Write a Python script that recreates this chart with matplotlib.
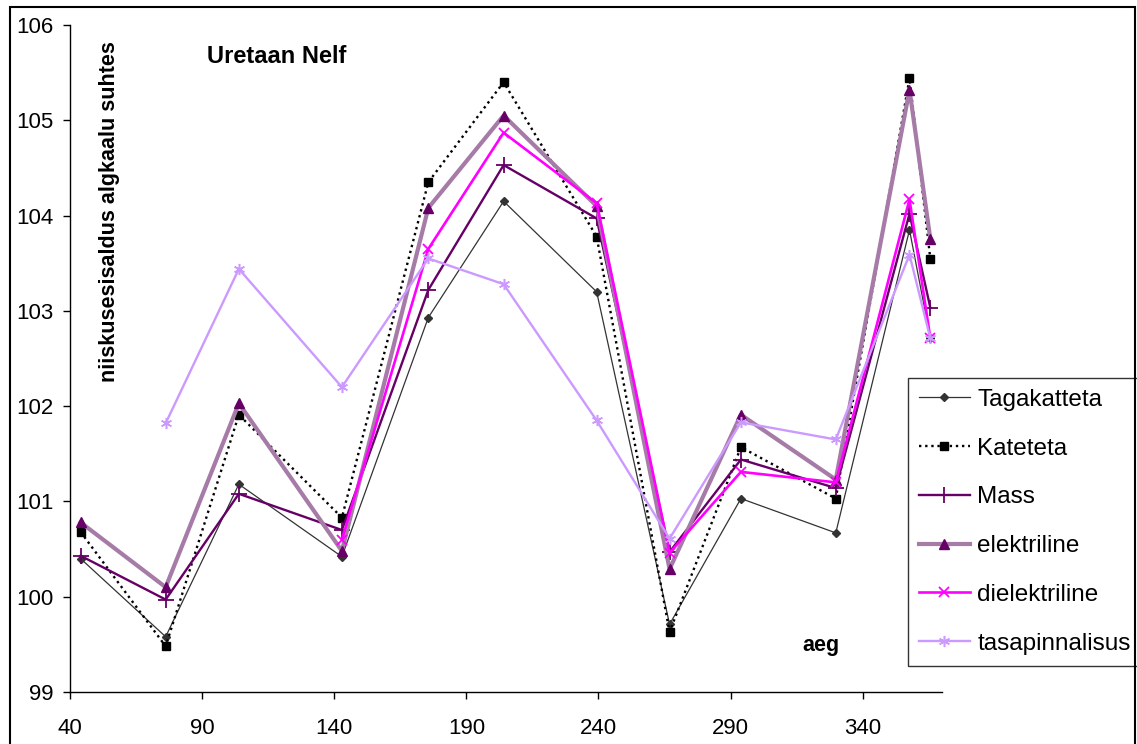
import numpy as np
import matplotlib
matplotlib.use('Agg')
import matplotlib.pyplot as plt
from matplotlib.patches import Rectangle

plt.rcParams['font.family'] = ['Liberation Sans', 'DejaVu Sans']

# andmed (loetud jooniselt)
aeg = [44, 76.2, 103.9, 142.9, 175.6, 204.1, 239.3, 266.9, 293.9, 329.8, 357.7, 365.6]
tagakatteta = [100.40, 99.58, 101.18, 100.42, 102.93, 104.15, 103.20, 99.71, 101.03, 100.67, 103.85, 102.71]
kateteta = [100.68, 99.48, 101.91, 100.83, 104.35, 105.40, 103.78, 99.63, 101.57, 101.03, 105.44, 103.54]
mass = [100.43, 99.97, 101.08, 100.70, 103.22, 104.53, 103.97, 100.47, 101.44, 101.14, 104.02, 103.03]
elektriline = [100.78, 100.10, 102.03, 100.48, 104.08, 105.05, 104.10, 100.29, 101.91, 101.23, 105.32, 103.75]
dielektriline = [np.nan, np.nan, np.nan, 100.60, 103.65, 104.87, 104.13, 100.46, 101.31, 101.20, 104.17, 102.71]
tasapinnalisus = [np.nan, 101.82, 103.44, 102.20, 103.55, 103.28, 101.85, 100.61, 101.83, 101.65, 103.59, 102.71]

W, H = 1137, 744
fig = plt.figure(figsize=(W / 100, H / 100), dpi=100)
ax = fig.add_axes([70 / W, (H - 692) / H, (942 - 70) / W, (692 - 25) / H])

ax.plot(aeg, tagakatteta, color='#333333', linewidth=0.9, marker='D', markersize=4.5,
        markerfacecolor='#333333', markeredgecolor='#333333', label='Tagakatteta')
ax.plot(aeg, kateteta, color='black', linewidth=1.7, linestyle=(0, (1, 1.6)), marker='s', markersize=5.5,
        markerfacecolor='black', markeredgecolor='black', label='Kateteta')
ax.plot(aeg, mass, color='#660066', linewidth=1.7, marker='+', markersize=11,
        markeredgewidth=1.3, label='Mass')
ax.plot(aeg, elektriline, color='#a77ba7', linewidth=3, marker='^', markersize=7,
        markerfacecolor='#660066', markeredgecolor='#660066', label='elektriline')
ax.plot(aeg, dielektriline, color='#ff00ff', linewidth=1.9, marker='x', markersize=7,
        markeredgewidth=1.3, label='dielektriline')
ax.plot(aeg, tasapinnalisus, color='#cc99ff', linewidth=1.7, marker=(6, 2, 0), markersize=8,
        markeredgewidth=1.1, label='tasapinnalisus')

ax.set_xlim(40, 370)
ax.set_ylim(99, 106)
ax.set_xticks(range(40, 341, 50))
ax.set_yticks(range(99, 107))
ax.tick_params(direction='out', length=5, width=1, labelsize=16, colors='black')
ax.tick_params(axis='x', pad=14)
ax.tick_params(axis='y', pad=7)
ax.spines['top'].set_visible(False)
ax.spines['right'].set_visible(False)
for s in ['left', 'bottom']:
    ax.spines[s].set_linewidth(1)
    ax.spines[s].set_color('black')

# tekstid
fig.text(207 / W, 1 - 63 / H, 'Uretaan Nelf', fontsize=17, fontweight='bold', ha='left', va='baseline')
fig.text(110 / W, 1 - 382 / H, 'niiskusesisaldus algkaalu suhtes', fontsize=15.5, fontweight='bold',
         rotation=90, ha='center', va='bottom')
fig.text(802 / W, 1 - 651 / H, 'aeg', fontsize=15.5, fontweight='bold', ha='left', va='baseline')

leg = ax.legend(loc='upper left', bbox_to_anchor=(908 / W, 1 - 378 / H), bbox_transform=fig.transFigure,
                borderaxespad=0, fontsize=17.5, frameon=True, fancybox=False, handlelength=2.1,
                handletextpad=0.3, labelspacing=1.1, borderpad=0.45)
leg.get_frame().set_edgecolor('black')
leg.get_frame().set_linewidth(1)

# diagrammi raam
fig.patches.append(Rectangle((10 / W, -0.01), (1135 - 10) / W, 1.01 - 7 / H, transform=fig.transFigure,
                             fill=False, edgecolor='black', linewidth=1.5))

plt.savefig('out.png', dpi=100)
